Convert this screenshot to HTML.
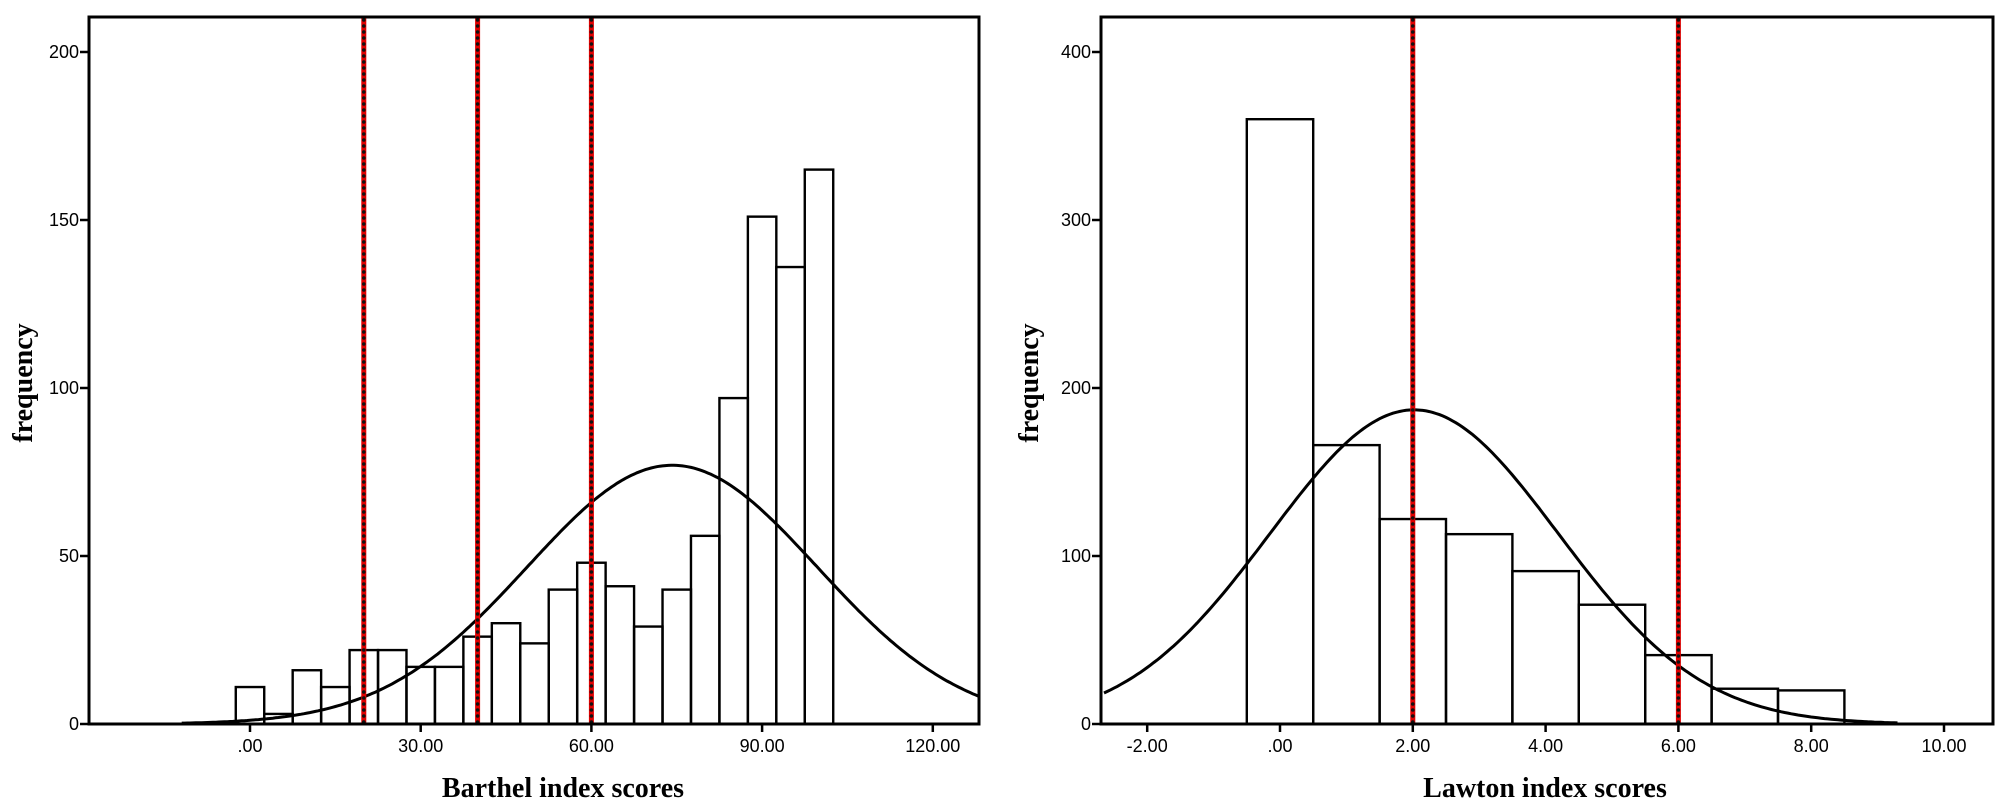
<!DOCTYPE html>
<html><head><meta charset="utf-8"><style>
html,body{margin:0;padding:0;background:#fff;}
svg{display:block;}
.t{font-family:"Liberation Sans",sans-serif;font-size:18px;fill:#000;}
.ti{font-family:"Liberation Serif",serif;font-weight:bold;font-size:28px;fill:#000;}
</style></head><body>
<svg id="s" width="2008" height="808" xmlns="http://www.w3.org/2000/svg"></svg>
<script>
const s=document.getElementById('s');let h='';
function L(x1,y1,x2,y2,w,c,extra){h+=`<line x1="${x1}" y1="${y1}" x2="${x2}" y2="${y2}" stroke="${c||'#000'}" stroke-width="${w||2}" ${extra||''}/>`;}
function T(x,y,txt,cls,anchor,extra){h+=`<text x="${x}" y="${y}" class="${cls}" text-anchor="${anchor||'middle'}" ${extra||''}>${txt}</text>`;}
const Y0=724,TOP=17;
function red(x){L(x,TOP,x,Y0,5,'#e00000');L(x,TOP+3,x,Y0,3.6,'#111','stroke-dasharray="0,6" stroke-linecap="round"');}
// Left chart
(function(){
 const xl=89,xr=979,x0=250,sx=5.69,sy=3.36;
 const X=v=>x0+v*sx,Y=v=>Y0-v*sy;
 const bars=[[0,11],[5,3],[10,16],[15,11],[20,22],[25,22],[30,17],[35,17],[40,26],[45,30],[50,24],[55,40],[60,48],[65,41],[70,29],[75,40],[80,56],[85,97],[90,151],[95,136],[100,165]];
 bars.forEach(([c,f])=>{h+=`<rect x="${X(c-2.5)}" y="${Y(f)}" width="${5*sx}" height="${f*sy}" fill="none" stroke="#000" stroke-width="2.4"/>`;});
 let p='';for(let v=-12;v<=128.5;v+=0.5){const f=77*Math.exp(-((v-74.2)**2)/(2*25.5*25.5));const x=X(v);if(x<xl||x>xr)continue;p+=(p?'L':'M')+x.toFixed(1)+','+Y(f).toFixed(1);}
 h+=`<path d="${p}" fill="none" stroke="#000" stroke-width="3"/>`;
 [20,40,60].forEach(v=>red(X(v)));
 h+=`<rect x="${xl}" y="${TOP}" width="${xr-xl}" height="${Y0-TOP}" fill="none" stroke="#000" stroke-width="3"/>`;
 [0,50,100,150,200].forEach(v=>{L(xl-9,Y(v),xl,Y(v),2.5);T(xl-10,Y(v)+6,v,'t','end');});
 [[0,'.00'],[30,'30.00'],[60,'60.00'],[90,'90.00'],[120,'120.00']].forEach(([v,t])=>{L(X(v),Y0,X(v),Y0+8,2.5);T(X(v),Y0+28,t,'t');});
 T(563,797,'Barthel index scores','ti');
 T(0,0,'frequency','ti','middle','transform="translate(32,383) rotate(-90)"');
})();
// Right chart
(function(){
 const xl=1101,xr=1993,x0=1280,sx=66.4,sy=1.68;
 const X=v=>x0+v*sx,Y=v=>Y0-v*sy;
 const bars=[[0,360],[1,166],[2,122],[3,113],[4,91],[5,71],[6,41],[7,21],[8,20]];
 bars.forEach(([c,f])=>{h+=`<rect x="${X(c-0.5)}" y="${Y(f)}" width="${sx}" height="${f*sy}" fill="none" stroke="#000" stroke-width="2.4"/>`;});
 let p='';for(let v=-2.7;v<=9.3;v+=0.05){const f=187*Math.exp(-((v-2.02)**2)/(2*2.17*2.17));const x=X(v);if(x<xl)continue;p+=(p?'L':'M')+x.toFixed(1)+','+Y(f).toFixed(1);}
 h+=`<path d="${p}" fill="none" stroke="#000" stroke-width="3"/>`;
 [2,6].forEach(v=>red(X(v)));
 h+=`<rect x="${xl}" y="${TOP}" width="${xr-xl}" height="${Y0-TOP}" fill="none" stroke="#000" stroke-width="3"/>`;
 [0,100,200,300,400].forEach(v=>{L(xl-9,Y(v),xl,Y(v),2.5);T(xl-10,Y(v)+6,v,'t','end');});
 [[-2,'-2.00'],[0,'.00'],[2,'2.00'],[4,'4.00'],[6,'6.00'],[8,'8.00'],[10,'10.00']].forEach(([v,t])=>{L(X(v),Y0,X(v),Y0+8,2.5);T(X(v),Y0+28,t,'t');});
 T(1545,797,'Lawton index scores','ti');
 T(0,0,'frequency','ti','middle','transform="translate(1038,383) rotate(-90)"');
})();
s.innerHTML=h;
</script>
</body></html>
